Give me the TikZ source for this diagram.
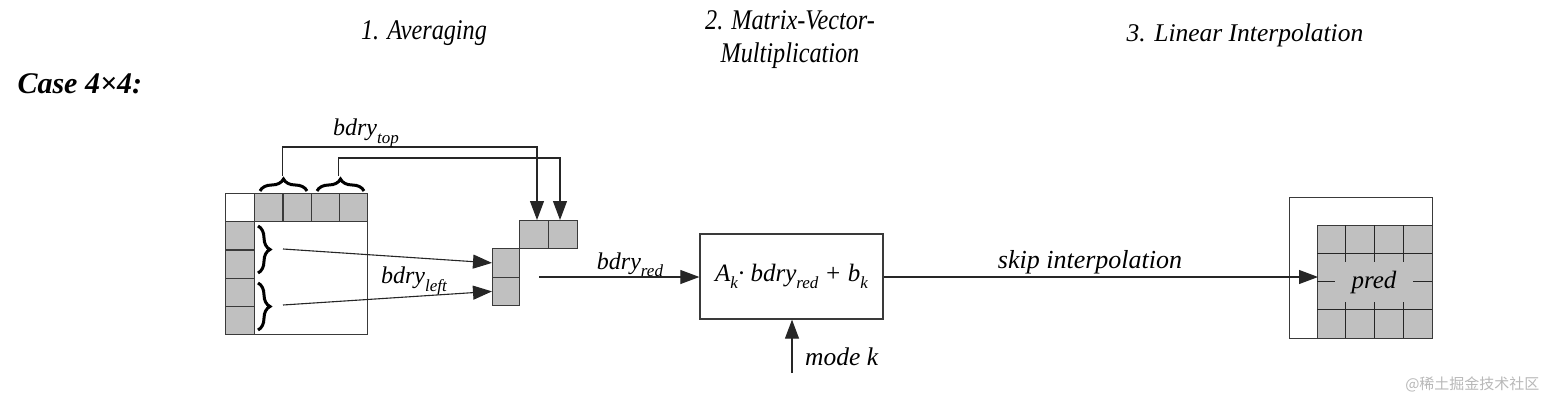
\documentclass[tikz,border=0pt]{standalone}
\usepackage{fontspec}
\setmainfont{Liberation Serif}
\newfontfamily\condfont[FakeStretch=0.85]{Liberation Serif}
\newfontfamily\cjkfont{Noto Sans CJK SC}
\usetikzlibrary{arrows.meta,decorations.pathreplacing}
\newcommand{\sbs}[1]{\raisebox{-0.3em}{\fontsize{17}{17}\selectfont #1}}
\definecolor{cellgray}{HTML}{C0C0C0}
\definecolor{edge}{HTML}{3A3A3A}
\definecolor{wmgray}{HTML}{B8B8B8}
\begin{document}
\begin{tikzpicture}[x=1pt,y=-1pt,
  cell/.style={draw=edge, fill=cellgray, line width=1.3pt, inner sep=0pt, anchor=north west},
  frame/.style={draw=edge, fill=white, line width=1.3pt, inner sep=0pt, anchor=north west},
  conn/.style={draw=black!85, line width=1.1pt},
  arr/.style={conn, -{Triangle[length=19pt,width=14pt]}},
  bracestyle/.style={draw=black, line width=3pt, decorate, decoration={brace, amplitude=12pt}},
  lbl/.style={font=\itshape\fontsize{24}{24}\selectfont, inner sep=1pt},
  title/.style={font=\condfont\itshape\fontsize{28.5}{33}\selectfont, align=center}]
\useasboundingbox (0,0) rectangle (1547,401);

% titles
\node[title] (t1) at (424,33) {1. Averaging};
\node[title] (t2) at (790,40) {2. Matrix-Vector-\\Multiplication};
\node[font=\itshape\fontsize{25.5}{25.5}\selectfont] (t3) at (1245,35) {3. Linear Interpolation};
\node[anchor=west, font=\bfseries\itshape\fontsize{30}{30}\selectfont] (case) at (14,84) {Case 4×4:};

% big block
\node[frame, minimum width=142pt, minimum height=141pt] (big) at (225,193) {};
\foreach \i/\x in {1/254,2/282.25,3/310.5,4/338.75}
  \node[cell, minimum width=28.25pt, minimum height=28pt] (T\i) at (\x,193) {};
\foreach \i/\y in {1/221,2/249.25,3/277.5,4/305.75}
  \node[cell, minimum width=29pt, minimum height=28.25pt] (L\i) at (225,\y) {};

% braces
\draw[bracestyle] (260,191) -- (307,191);
\draw[bracestyle] (317,191) -- (364,191);
\draw[bracestyle] (258,226) -- (258,273);
\draw[bracestyle] (258,283) -- (258,330);
\coordinate (bt1) at (282.5,176);
\coordinate (bt2) at (338.5,176);
\coordinate (bl1) at (283,249);
\coordinate (bl2) at (283,305);

% reduced boundary cells
\node[cell, minimum width=29pt, minimum height=28pt] (R1) at (519,220) {};
\node[cell, minimum width=29pt, minimum height=28pt] (R2) at (548,220) {};
\node[cell, minimum width=27pt, minimum height=28.5pt] (R3) at (492,248) {};
\node[cell, minimum width=27pt, minimum height=28.5pt] (R4) at (492,276.5) {};
\coordinate (r1top) at (537,220);
\coordinate (r2top) at (560,220);
\coordinate (redout) at (539,277);

% top arrows
\draw[arr] (bt1) -- (282.5,147) -| (r1top);
\draw[arr] (bt2) -- (338.5,158) -| (r2top);
\node[lbl] (ltop) at (366,133) {bdry\sbs{top}};
% left arrows
\draw[arr] (bl1) -- (R3.west);
\draw[arr] (bl2) -- (R4.west);
\node[lbl] (lleft) at (414,281) {bdry\sbs{left}};

% matrix-vector box
\node[draw=edge, line width=1.3pt, minimum width=183pt, minimum height=85pt, inner sep=0pt,
      font=\itshape\fontsize{25}{25}\selectfont] (mvm) at (791.5,276.5)
      {A\sbs{k}· bdry\sbs{red} + b\sbs{k}};
\draw[arr] (redout) -- (mvm.west |- redout);
\node[lbl] (lred) at (630,265) {bdry\sbs{red}};
\coordinate (modein) at (792,373);
\draw[arr] (modein) -- (mvm.south -| modein);
\node[lbl, anchor=west, font=\itshape\fontsize{25.5}{25.5}\selectfont] (lmode) at (804,357) {mode k};

% prediction block
\node[frame, minimum width=143pt, minimum height=141pt] (pframe) at (1289,197) {};
\node[cell, minimum width=115pt, minimum height=113pt] (pgrid) at (1317,225) {};
\foreach \x in {1345.75,1374.5,1403.25}
  \draw[draw=black!85, line width=1.3pt] (\x,225) -- (\x,338);
\foreach \y in {253.25,281.5,309.75}
  \draw[draw=black!85, line width=1.3pt] (1317,\y) -- (1432,\y);
\node[fill=cellgray, minimum width=78pt, minimum height=40pt, inner sep=0pt,
      font=\itshape\fontsize{25}{25}\selectfont] (pred) at (1374,282) {pred};
\coordinate (pin) at (1318,277);
\draw[arr] (mvm.east |- pin) -- (pin);
\node[lbl, font=\itshape\fontsize{26}{26}\selectfont] (lskip) at (1090,262) {skip interpolation};

% watermark
\node[font=\cjkfont\fontsize{15}{15}\selectfont, text=wmgray, anchor=east] (wm) at (1543,384) {@稀土掘金技术社区};
\end{tikzpicture}
\end{document}
